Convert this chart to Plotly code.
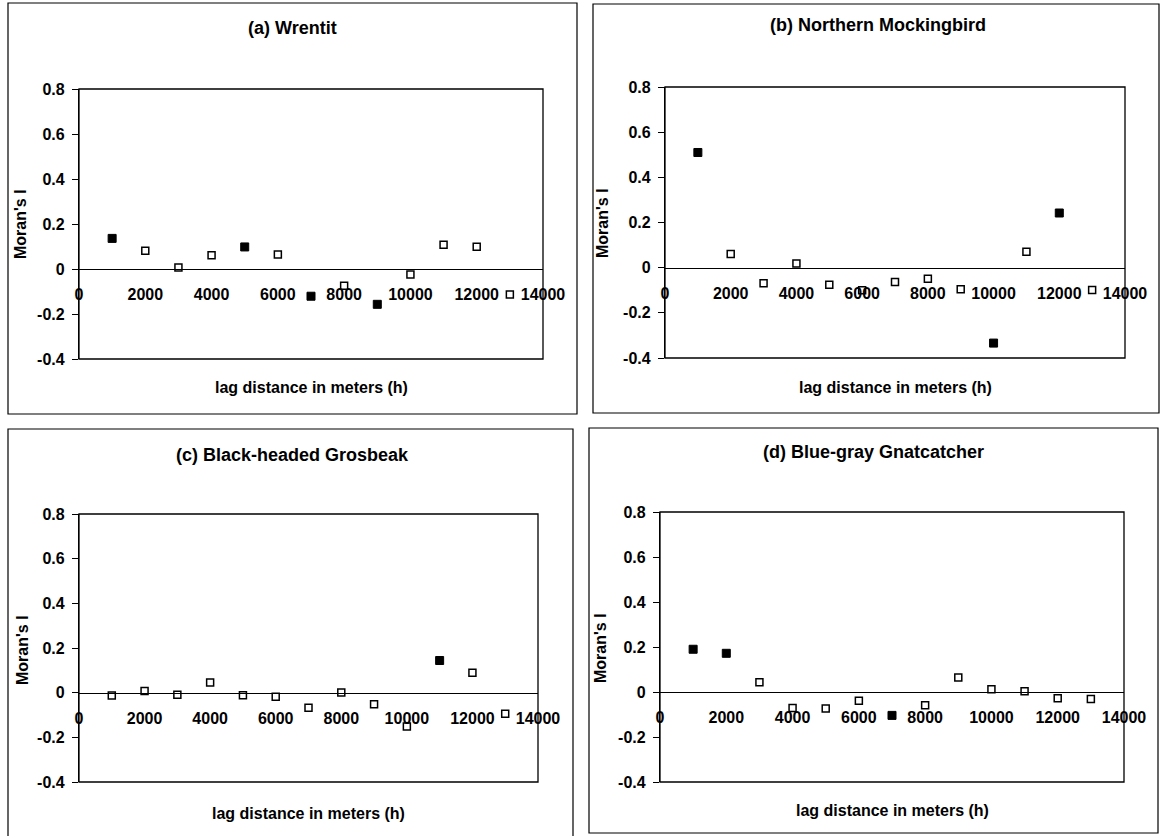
import plotly.graph_objects as go

# ---------------- data ----------------
lags = [1000, 2000, 3000, 4000, 5000, 6000, 7000, 8000, 9000, 10000, 11000, 12000, 13000]

wrentit_I = [0.136, 0.081, 0.007, 0.061, 0.098, 0.064, -0.121, -0.075, -0.157, -0.025, 0.108, 0.099, -0.113]
wrentit_sig = [1, 0, 0, 0, 1, 0, 1, 0, 1, 0, 0, 0, 0]

mockingbird_I = [0.510, 0.060, -0.069, 0.018, -0.076, -0.100, -0.064, -0.049, -0.096, -0.334, 0.070, 0.242, -0.099]
mockingbird_sig = [1, 0, 0, 0, 0, 0, 0, 0, 0, 1, 0, 1, 0]

grosbeak_I = [-0.013, 0.007, -0.009, 0.045, -0.012, -0.018, -0.067, 0.001, -0.052, -0.151, 0.144, 0.089, -0.094]
grosbeak_sig = [0, 0, 0, 0, 0, 0, 0, 0, 0, 0, 1, 0, 0]

gnatcatcher_I = [0.190, 0.172, 0.043, -0.071, -0.073, -0.039, -0.104, -0.059, 0.065, 0.012, 0.003, -0.028, -0.031]
gnatcatcher_sig = [1, 1, 0, 0, 0, 0, 1, 0, 0, 0, 0, 0, 0]

titles = ["(a) Wrentit", "(b) Northern Mockingbird", "(c) Black-headed Grosbeak", "(d) Blue-gray Gnatcatcher"]
x_title = "lag distance in meters (h)"
y_title = "Moran's I"

x_tickvals = [0, 2000, 4000, 6000, 8000, 10000, 12000, 14000]
x_ticktext = ["0", "2000", "4000", "6000", "8000", "10000", "12000", "14000"]
y_tickvals = [-0.4, -0.2, 0, 0.2, 0.4, 0.6, 0.8]
y_ticktext = ["-0.4", "-0.2", "0", "0.2", "0.4", "0.6", "0.8"]

series = [(wrentit_I, wrentit_sig), (mockingbird_I, mockingbird_sig),
          (grosbeak_I, grosbeak_sig), (gnatcatcher_I, gnatcatcher_sig)]

# ---------------- layout (pixels) ----------------
W, H = 1162, 836
plots = [  # left, right, top, bottom of plot area
    (79, 543, 89, 359),
    (665, 1125, 87, 358),
    (79, 538, 514, 782),
    (660, 1124, 512, 782),
]
boxes = [  # outer panel frames
    (8, 577, 3, 414),
    (593, 1159, 4, 413),
    (8, 573, 429, 840),
    (589, 1158, 428, 833),
]
title_pos = [(292, 28), (878, 25), (292, 455), (873, 452)]
ytitle_pos = [(20, 224), (602, 223), (22, 650), (600, 648)]
xtitle_pos = [(311, 387), (895, 387), (308, 813), (892, 810)]

FONT = "Liberation Sans, Arial, sans-serif"

def px(x):
    return x / W

def py(y):
    return 1 - y / H

fig = go.Figure()
shapes = []
annotations = []
layout_axes = {}

for i, ((vals, sig), (l, r, t, b)) in enumerate(zip(series, plots)):
    n = i + 1
    xa = "x" if n == 1 else f"x{n}"
    ya = "y" if n == 1 else f"y{n}"
    xkey = "xaxis" if n == 1 else f"xaxis{n}"
    ykey = "yaxis" if n == 1 else f"yaxis{n}"

    xs_f = [x for x, s in zip(lags, sig) if s]
    ys_f = [v for v, s in zip(vals, sig) if s]
    xs_o = [x for x, s in zip(lags, sig) if not s]
    ys_o = [v for v, s in zip(vals, sig) if not s]

    fig.add_trace(go.Scatter(x=xs_o, y=ys_o, mode="markers", xaxis=xa, yaxis=ya,
                             marker=dict(symbol="square", size=7, color="white",
                                         line=dict(color="black", width=1.5)),
                             showlegend=False))
    fig.add_trace(go.Scatter(x=xs_f, y=ys_f, mode="markers", xaxis=xa, yaxis=ya,
                             marker=dict(symbol="square", size=8, color="black",
                                         line=dict(color="black", width=1)),
                             showlegend=False))

    zero_px = t + (b - t) * (0.8 / 1.2)
    layout_axes[xkey] = dict(domain=[px(l), px(r)], range=[0, 14000], anchor="free",
                             position=py(zero_px), showline=True, linecolor="black",
                             linewidth=1.3, showgrid=False, zeroline=False, automargin=False,
                             tickvals=x_tickvals, ticktext=x_ticktext, ticks="",
                             ticklabelstandoff=11,
                             tickfont=dict(family=FONT, size=16, color="black", weight="bold"))
    layout_axes[ykey] = dict(domain=[py(b), py(t)], range=[-0.4, 0.8], anchor=xa,
                             showline=True, linecolor="black", linewidth=1.3,
                             showgrid=False, zeroline=False, automargin=False,
                             tickvals=y_tickvals, ticktext=y_ticktext,
                             ticks="outside", ticklen=6, tickwidth=1.3, tickcolor="black",
                             ticklabelstandoff=4,
                             tickfont=dict(family=FONT, size=16, color="black", weight="bold"))

    shapes.append(dict(type="rect", xref=f"{xa} domain", yref=f"{ya} domain",
                       x0=0, x1=1, y0=0, y1=1, line=dict(color="black", width=1.3),
                       layer="above"))
    bl, br, bt, bb = boxes[i]
    shapes.append(dict(type="rect", xref="paper", yref="paper",
                       x0=px(bl), x1=px(br), y0=py(bb), y1=py(bt),
                       line=dict(color="black", width=1.2)))

    tx, ty = title_pos[i]
    annotations.append(dict(text=titles[i], xref="paper", yref="paper", x=px(tx), y=py(ty),
                            xanchor="center", yanchor="middle", showarrow=False,
                            font=dict(family=FONT, size=18, color="black", weight="bold")))
    yx, yy = ytitle_pos[i]
    annotations.append(dict(text=y_title, xref="paper", yref="paper", x=px(yx), y=py(yy),
                            xanchor="center", yanchor="middle", showarrow=False, textangle=-90,
                            font=dict(family=FONT, size=16, color="black", weight="bold")))
    xx, xy = xtitle_pos[i]
    annotations.append(dict(text=x_title, xref="paper", yref="paper", x=px(xx), y=py(xy),
                            xanchor="center", yanchor="middle", showarrow=False,
                            font=dict(family=FONT, size=16, color="black", weight="bold")))

fig.update_layout(width=W, height=H, margin=dict(l=0, r=0, t=0, b=0, pad=0, autoexpand=False),
                  paper_bgcolor="white", plot_bgcolor="white",
                  shapes=shapes, annotations=annotations, **layout_axes)

fig.write_html("out.html")
